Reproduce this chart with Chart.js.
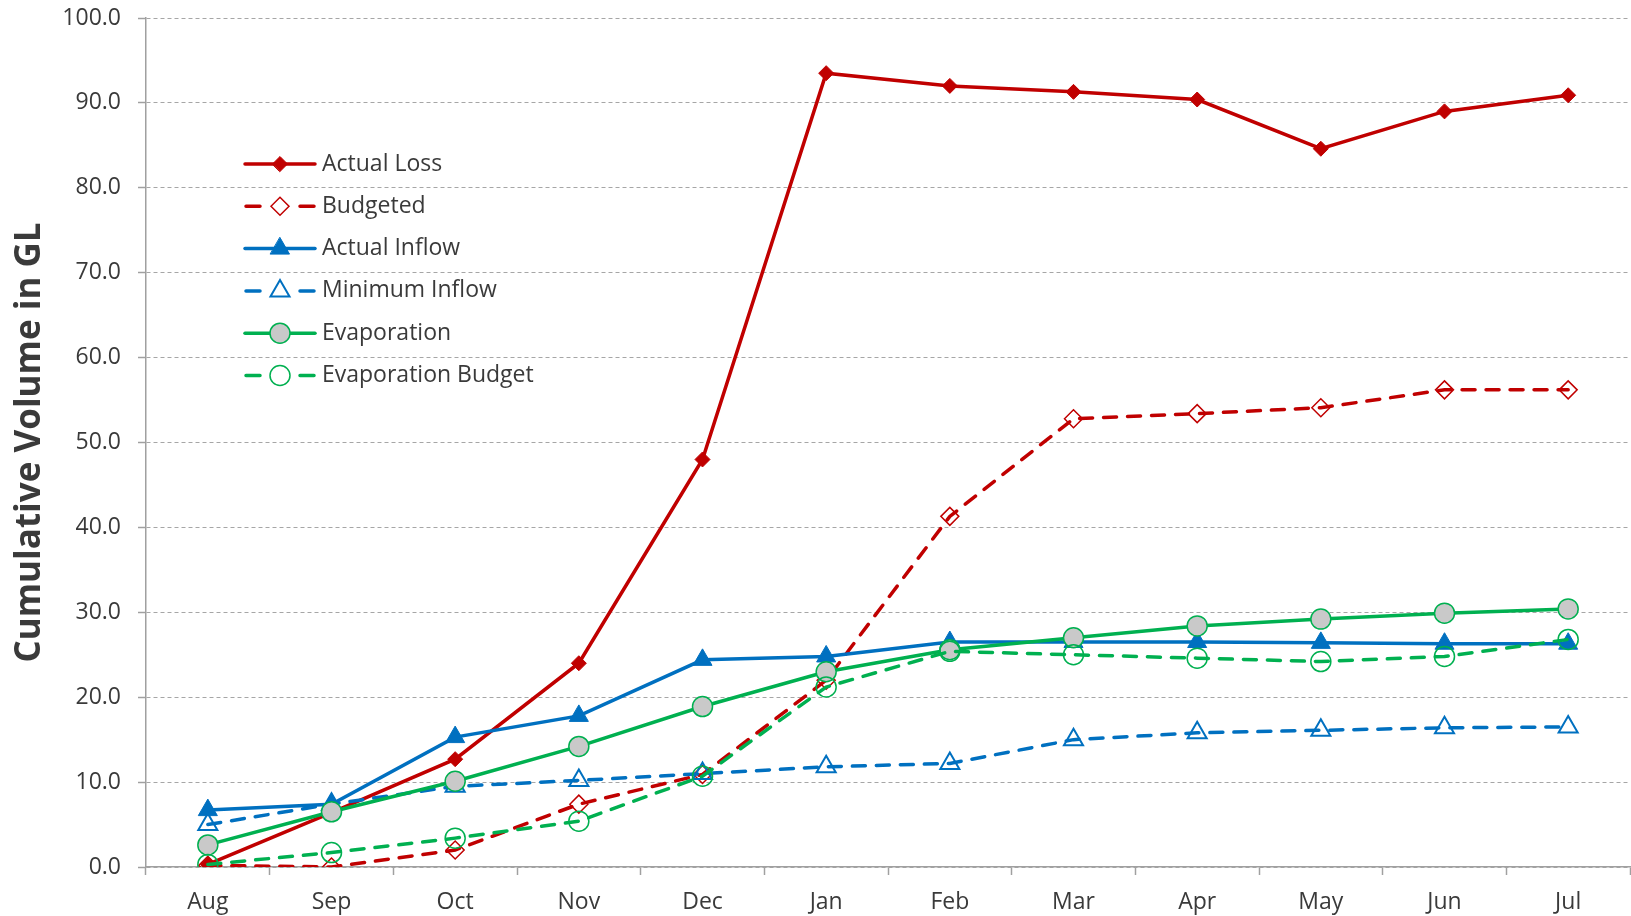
<!DOCTYPE html>
<html>
<head>
<meta charset="utf-8">
<script src="https://cdn.jsdelivr.net/npm/chart.js@4/dist/chart.umd.min.js"></script>
<style>
  html, body { margin: 0; padding: 0; background: #ffffff; }
  #wrap { width: 1631px; height: 916px; position: relative; }
</style>
</head>
<body>
<div id="wrap"><canvas id="volumeChart"></canvas></div>
<script>
// months of the water year
const months = ['Aug', 'Sep', 'Oct', 'Nov', 'Dec', 'Jan', 'Feb', 'Mar', 'Apr', 'May', 'Jun', 'Jul'];

// cumulative volumes, GL
const actualLoss    = [0.3, 6.4, 12.7, 24.0, 48.0, 93.5, 92.0, 91.3, 90.4, 84.6, 89.0, 90.9];
const budgeted      = [0.2, 0.0, 2.0, 7.4, 10.9, 22.0, 41.3, 52.8, 53.4, 54.1, 56.2, 56.2];
const actualInflow  = [6.7, 7.4, 15.3, 17.8, 24.4, 24.8, 26.5, 26.5, 26.5, 26.4, 26.3, 26.3];
const minimumInflow = [5.0, 7.4, 9.5, 10.2, 11.0, 11.8, 12.2, 15.0, 15.8, 16.1, 16.4, 16.5];
const evaporation   = [2.6, 6.5, 10.1, 14.2, 18.9, 23.0, 25.6, 27.0, 28.4, 29.2, 29.9, 30.4];
const evapBudget    = [0.3, 1.7, 3.4, 5.4, 10.7, 21.2, 25.4, 25.0, 24.6, 24.2, 24.8, 26.8];

const RED = '#C00000';
const BLUE = '#0070C0';
const GREEN = '#00B050';
const DASH = [13, 11];
const TEXT = '#3A3A3A';
const FONT = "'Open Sans', 'Liberation Sans', sans-serif";

function series(label, data, color, opts) {
    return Object.assign({
        label: label,
        data: data,
        borderColor: color,
        borderWidth: 3.5,
        borderCapStyle: 'round',
        tension: 0,
        fill: false,
        pointBorderColor: color,
        pointHoverRadius: 0
    }, opts);
}

const datasets = [
    series('Actual Loss', actualLoss, RED, {
        order: 6, pointStyle: 'rectRot', pointRadius: 7.5,
        pointBackgroundColor: RED, pointBorderWidth: 1
    }),
    series('Budgeted', budgeted, RED, {
        order: 5, borderDash: DASH, pointStyle: 'rectRot', pointRadius: 9,
        pointBackgroundColor: 'rgba(0,0,0,0)', pointBorderWidth: 1.5
    }),
    series('Actual Inflow', actualInflow, BLUE, {
        order: 4, pointStyle: 'triangle', pointRadius: 11,
        pointBackgroundColor: BLUE, pointBorderWidth: 1
    }),
    series('Minimum Inflow', minimumInflow, BLUE, {
        order: 3, borderDash: DASH, pointStyle: 'triangle', pointRadius: 11,
        pointBackgroundColor: 'rgba(0,0,0,0)', pointBorderWidth: 2
    }),
    series('Evaporation', evaporation, GREEN, {
        order: 2, pointStyle: 'circle', pointRadius: 10,
        pointBackgroundColor: '#C9C9C9', pointBorderWidth: 1.5
    }),
    series('Evaporation Budget', evapBudget, GREEN, {
        order: 1, borderDash: DASH, pointStyle: 'circle', pointRadius: 10,
        pointBackgroundColor: 'rgba(0,0,0,0)', pointBorderWidth: 1.5
    })
];

// legend drawn inside the plot, Excel style (line + marker)
const insideLegend = {
    id: 'insideLegend',
    afterDraw(chart) {
        const ctx = chart.ctx;
        const area = chart.chartArea;
        const x0 = area.left + 99;
        const x1 = area.left + 169;
        const mid = (x0 + x1) / 2;
        const top = area.top + 146;
        const step = 42.3;

        ctx.save();
        chart.data.datasets.forEach(function(ds, i) {
            const y = top + i * step;
            ctx.strokeStyle = ds.borderColor;
            ctx.lineWidth = 3.5;
            ctx.lineCap = 'round';
            ctx.setLineDash([]);
            ctx.beginPath();
            if (ds.borderDash) {
                ctx.moveTo(x0 + 1, y); ctx.lineTo(x0 + 15, y);
                ctx.moveTo(x1 - 15, y); ctx.lineTo(x1 - 1, y);
            } else {
                ctx.moveTo(x0, y); ctx.lineTo(x1, y);
            }
            ctx.stroke();

            ctx.fillStyle = ds.pointBackgroundColor;
            ctx.strokeStyle = ds.pointBorderColor;
            ctx.lineWidth = ds.pointBorderWidth;
            Chart.helpers.drawPoint(ctx, {
                pointStyle: ds.pointStyle,
                radius: ds.pointRadius,
                rotation: 0,
                borderWidth: ds.pointBorderWidth
            }, mid, y);

            ctx.fillStyle = TEXT;
            ctx.font = '23px ' + FONT;
            ctx.textAlign = 'left';
            ctx.textBaseline = 'middle';
            ctx.fillText(ds.label, area.left + 176, y);
        });
        ctx.restore();
    }
};

new Chart(document.getElementById('volumeChart'), {
    type: 'line',
    data: {
        labels: months,
        datasets: datasets
    },
    options: {
        responsive: true,
        maintainAspectRatio: false,
        animation: false,
        layout: { autoPadding: false, padding: { top: 18, right: 1, left: 0, bottom: 0 } },
        plugins: {
            legend: { display: false },
            tooltip: { enabled: false }
        },
        scales: {
            x: {
                offset: true,
                afterFit: function(scale) { scale.height = 49; },
                grid: {
                    offset: true,
                    drawOnChartArea: false,
                    drawTicks: true,
                    tickLength: 8,
                    tickColor: '#A0A0A0',
                    tickWidth: 1.5
                },
                border: { display: true, color: '#A0A0A0', width: 1.5 },
                ticks: {
                    color: TEXT,
                    font: { family: FONT, size: 23 },
                    padding: 14,
                    maxRotation: 0
                }
            },
            y: {
                min: 0,
                max: 100,
                afterFit: function(scale) {
                    scale.width = 146;
                    scale.paddingTop = 0;
                    scale.paddingBottom = 0;
                },
                grid: {
                    color: '#A6A6A6',
                    lineWidth: 1,
                    drawTicks: true,
                    tickLength: 8,
                    tickColor: '#A0A0A0',
                    tickWidth: 1.5,
                    tickBorderDash: []
                },
                border: { display: true, color: '#A0A0A0', width: 1.5, dash: [4, 3] },
                ticks: {
                    stepSize: 10,
                    color: TEXT,
                    font: { family: FONT, size: 23 },
                    padding: 17,
                    callback: function(v) { return v.toFixed(1); }
                },
                title: {
                    display: true,
                    text: 'Cumulative Volume in GL',
                    color: TEXT,
                    font: { family: FONT, size: 35, weight: 'bold' },
                    padding: { top: 9, bottom: 0 }
                }
            }
        }
    },
    plugins: [insideLegend]
});
</script>
</body>
</html>
